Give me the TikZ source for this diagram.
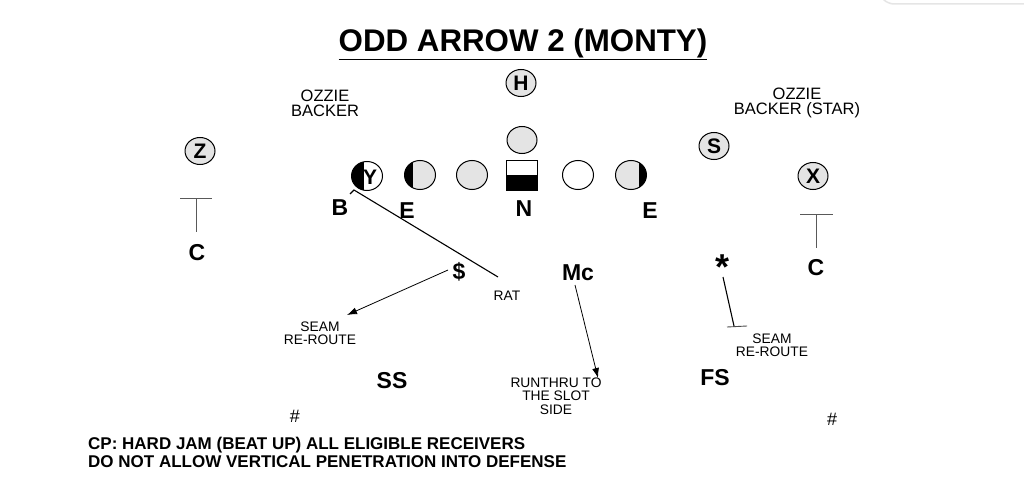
\documentclass[tikz,border=0pt]{standalone}
\usepackage{fontspec}
\setmainfont{Liberation Sans}
\usetikzlibrary{shapes.geometric,arrows.meta}
\definecolor{plgray}{HTML}{E4E4E4}
\tikzset{
  player/.style={ellipse, draw, line width=1pt, fill=plgray, minimum width=30pt, minimum height=27pt, inner sep=0pt, font=\bfseries\fontsize{21}{21}\selectfont},
  lineman/.style={ellipse, draw, line width=1pt, fill=plgray, minimum width=31pt, minimum height=29pt, inner sep=0pt},
  big/.style={font=\bfseries\fontsize{23}{23}\selectfont, inner sep=0pt},
  small/.style={font=\fontsize{13.8}{13.5}\selectfont, align=center, inner sep=0pt},
  mid/.style={font=\fontsize{16.5}{15}\selectfont, align=center, inner sep=0pt},
  route/.style={line width=1.1pt},
  arr/.style={line width=0.8pt, -{Latex[length=10pt,width=7pt]}},
}
\begin{document}
\begin{tikzpicture}[x=1pt,y=-1pt]
\useasboundingbox (0,0) rectangle (1024,476);
\fill[white] (0,0) rectangle (1024,476);
% faint top-right frame edge
\draw[gray!20, line width=1.5pt, rounded corners=6pt] (1024,4) -- (888,4) -- (884,0);

% title
\node[font=\bfseries\fontsize{31.3}{31}\selectfont, inner sep=0pt] (title) at (523,44) {\underline{ODD ARROW 2 (MONTY)}};

% backfield / receivers
\node[player] (H) at (521,83) {H};
\node[player] (Z) at (200,151) {Z};
\node[player] (S) at (714,146) {S};
\node[player] (X) at (813,176) {X};
\node[lineman, minimum width=30pt, minimum height=27pt] (QB) at (522,140) {};

% line of scrimmage
\node[lineman, fill=white, path picture={\fill[black] (path picture bounding box.south west) rectangle ([xshift=12pt]path picture bounding box.north west);}] (Y) at (367,176) {};
\node[font=\bfseries\fontsize{21}{21}\selectfont, inner sep=0pt] (Ylet) at (370,177) {Y};
\node[lineman, path picture={\fill[black] (path picture bounding box.south west) rectangle ([xshift=8pt]path picture bounding box.north west);}] (LE) at (420,175) {};
\node[lineman] (LG) at (472,175) {};
\node[draw, line width=1pt, fill=white, minimum width=31pt, minimum height=30pt, inner sep=0pt,
  path picture={\fill[black] (path picture bounding box.south west) rectangle ([yshift=-15pt]path picture bounding box.north east);}] (C0) at (522,175) {};
\node[lineman, fill=white] (RG) at (578,175) {};
\node[lineman, path picture={\fill[black] (path picture bounding box.south east) rectangle ([xshift=-8pt]path picture bounding box.north east);}] (RE) at (631,175) {};

% labels
\node[mid] (ozL) at (325,103) {OZZIE\\BACKER};
\node[mid] (ozR) at (797,103) {OZZIE\\BACKER (STAR)};

\node[big] (B) at (340,208) {B};
\node[big] (E1) at (407,211) {E};
\node[big] (N) at (524,209) {N};
\node[big] (E2) at (650,211) {E};
\node[big] (CL) at (197,253) {C};
\node[big] (CR) at (816,268) {C};
\node[big] (dol) at (459,272) {\$};
\node[big] (Mc) at (578,273) {Mc};
\node[big] (SS) at (392,381) {SS};
\node[big] (FS) at (715,378) {FS};
\node[font=\bfseries\fontsize{36}{36}\selectfont, inner sep=0pt] (star) at (722,267) {*};
\node[font=\fontsize{18}{18}\selectfont, inner sep=0pt] (h1) at (295,416) {\#};
\node[font=\fontsize{18}{18}\selectfont, inner sep=0pt] (h2) at (832,419) {\#};

\node[small] (rat) at (507,296) {RAT};
\node[small] (seamL) at (320,333) {SEAM\\RE-ROUTE};
\node[small] (seamR) at (772,345) {SEAM\\RE-ROUTE};
\node[small] (runthru) at (556,396) {RUNTHRU TO\\THE SLOT\\SIDE};

\node[font=\bfseries\fontsize{17}{18}\selectfont, align=left, anchor=north west, inner sep=0pt] (cp) at (88,437) {CP: HARD JAM (BEAT UP) ALL ELIGIBLE RECEIVERS\\DO NOT ALLOW VERTICAL PENETRATION INTO DEFENSE};

% Z and X jam marks
\coordinate (zt) at (196,198);
\draw[line width=0.8pt, gray!70!black] (180,198) -- (212,198);
\draw[line width=0.8pt, gray!70!black] (zt) -- (196,232);
\coordinate (xt) at (816,214);
\draw[line width=0.8pt, gray!70!black] (800,214) -- (833,214);
\draw[line width=0.8pt, gray!70!black] (xt) -- (816,248);

% B route
\coordinate (b0) at (350,194);
\coordinate (b1) at (354,190);
\coordinate (b2) at (498,277);
\draw[route] (b0) -- (b1) -- (b2);

% $ arrow
\draw[arr] (448,270) -- (347,315);
% Mc arrow
\draw[arr] (575,285) -- (598,378);
% * route with T
\coordinate (s1) at (734,326);
\draw[route] (723,277) -- (s1);
\draw[line width=0.9pt, gray!60!black] (727,327) -- (747,326);
\end{tikzpicture}
\end{document}
